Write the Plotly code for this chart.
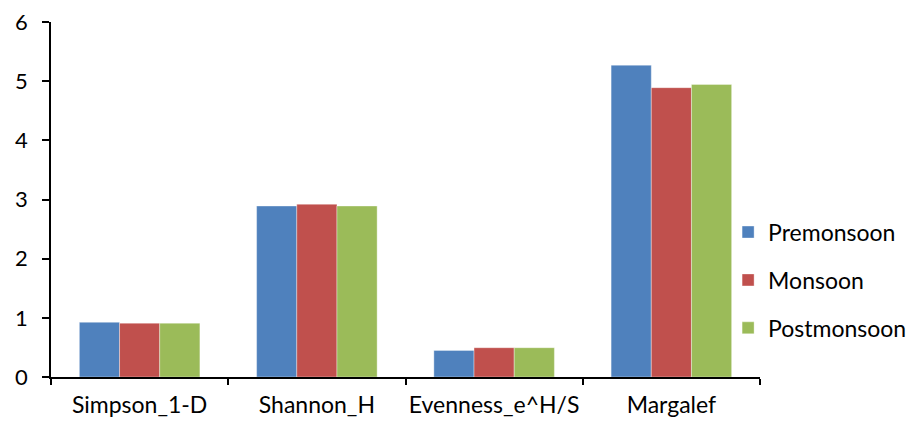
import plotly.graph_objects as go

categories = ['Simpson_1-D', 'Shannon_H', 'Evenness_e^H/S', 'Margalef']
premonsoon = [0.925, 2.89, 0.45, 5.27]
monsoon = [0.91, 2.92, 0.495, 4.89]
postmonsoon = [0.91, 2.89, 0.495, 4.945]

series = [('Premonsoon', premonsoon, '#4F81BD'),
          ('Monsoon', monsoon, '#C0504D'),
          ('Postmonsoon', postmonsoon, '#9BBB59')]

fig = go.Figure()
for i, (name, vals, color) in enumerate(series):
    fig.add_trace(go.Bar(x=categories, y=vals, name=name, legendgroup=str(i),
                         marker=dict(color=color, line=dict(color='rgba(255,255,255,0.6)', width=0.6))))

# page body adds an 8px offset, so margins are shifted to compensate
fig.update_layout(
    width=923, height=423,
    margin=dict(l=43, r=171, t=14, b=54, autoexpand=False),
    paper_bgcolor='white', plot_bgcolor='white',
    font=dict(family='Lato, Open Sans, sans-serif', size=23, color='black'),
    barmode='group', bargap=0.32, bargroupgap=0,
    showlegend=True,
    legend=dict(x=0.955, y=0.273, xanchor='left', yanchor='middle', tracegroupgap=15,
                font=dict(size=23), bgcolor='rgba(0,0,0,0)'),
)
fig.update_xaxes(type='category', showline=True, linecolor='black', linewidth=1.5,
                 ticks='outside', tickson='boundaries', ticklen=6, tickcolor='black',
                 tickwidth=1.5, showgrid=False, zeroline=False, automargin=False,
                 ticklabelstandoff=7, tickangle=0)
fig.update_yaxes(range=[0, 6], dtick=1, showline=True, linecolor='black', linewidth=1.5,
                 ticks='outside', ticklen=7, tickcolor='black', tickwidth=1.5,
                 showgrid=False, zeroline=False, automargin=False,
                 ticklabelstandoff=10, ticklabeloverflow='allow', tickfont=dict(size=22))

fig.write_html('out.html')
